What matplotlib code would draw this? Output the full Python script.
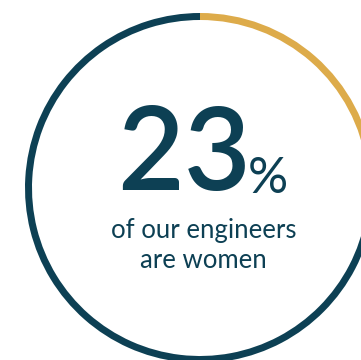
# Ring chart: share of women engineers

import matplotlib.pyplot as plt

# Data
share_women = 23
share_rest = 100 - share_women
values = [share_women, share_rest]
big_label = "23"
sub_lines = ["of our engineers", "are women"]

# Colours
navy = "#0d4054"
gold = "#ddab4a"

fig = plt.figure(figsize=(3.61, 3.60), dpi=100)
ax = fig.add_axes([0, 0, 1, 1])

# ring
ax.pie(values, colors=[gold, navy], startangle=90, counterclock=False,
       center=(200, 172), radius=175,
       wedgeprops=dict(width=7, linewidth=0))

ax.set_xlim(0, 361)
ax.set_ylim(0, 360)
ax.set_aspect("equal")
ax.axis("off")

# texts
ax.text(184, 170, big_label, fontsize=83, family="Lato", fontweight="semibold",
        color=navy, ha="center", va="baseline")
ax.text(268, 167, "%", fontsize=36, family="Lato", color=navy,
        ha="center", va="baseline")
ax.text(204, 122, sub_lines[0], fontsize=18.5, family="Lato", color=navy,
        ha="center", va="baseline")
ax.text(203, 92, sub_lines[1], fontsize=18.5, family="Lato", color=navy,
        ha="center", va="baseline")

fig.savefig("out.png", dpi=100, facecolor="white")
